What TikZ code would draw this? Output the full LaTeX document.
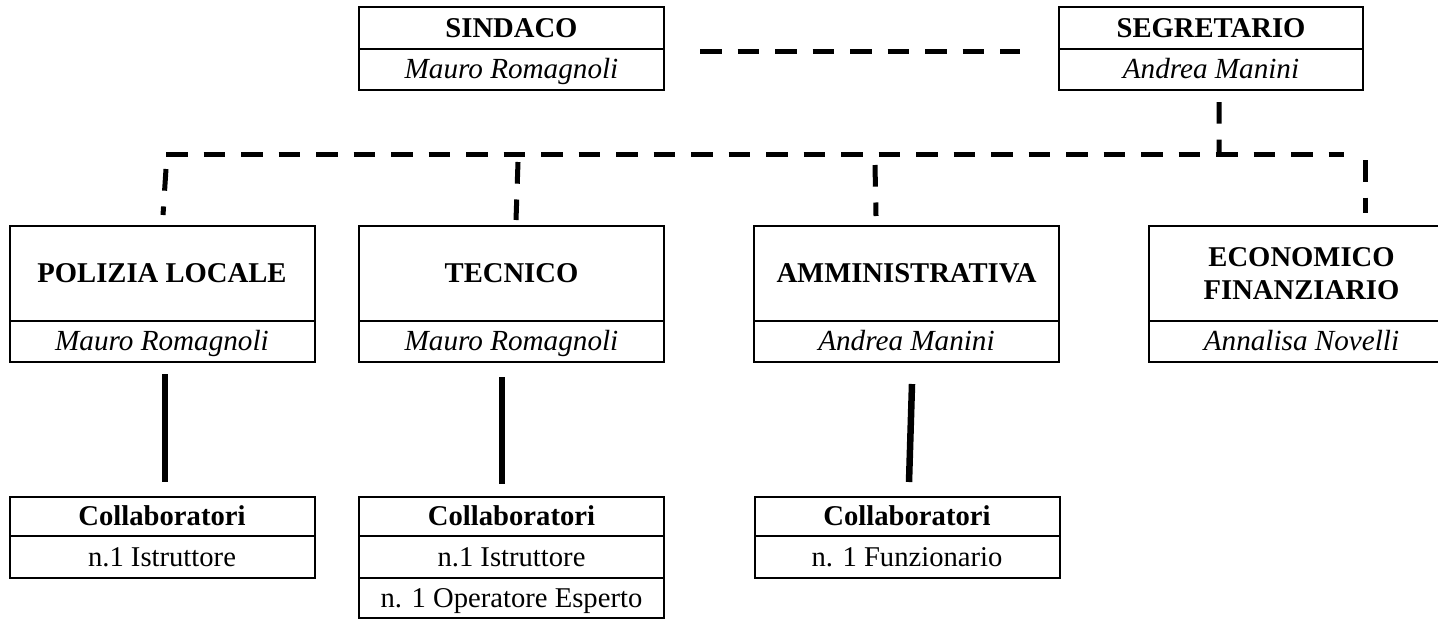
\documentclass[tikz,border=0pt]{standalone}
\usepackage{fontspec}
\setmainfont{Liberation Serif}

\tikzset{
  casella/.style={draw,line width=0.04cm,inner sep=0pt,outer sep=0pt,minimum width=6.1cm,align=center,font=\fontsize{16.3}{18.7}\selectfont},
  riga/.style={text height=10.8pt,text depth=0pt},
  intestazione/.style={casella,font=\fontsize{16.3}{18.7}\selectfont\bfseries},
  titolo/.style={intestazione,riga},
  nome/.style={casella,riga,minimum height=0.82cm,font=\fontsize{16.6}{18.7}\selectfont\itshape},
  voce/.style={casella,riga,minimum height=0.8cm},
  tratteggio/.style={line width=0.1cm,dash pattern=on 0.434cm off 0.316cm},
  linea/.style={line width=0.13cm}
}

\begin{document}
\begin{tikzpicture}
\useasboundingbox (0,0) rectangle (28.76,-12.38);
% vertici
\node[titolo,minimum height=0.84cm] (sindaco) at (10.23,-0.56) {SINDACO};
\node[nome,anchor=north] (sindacoN) at (sindaco.south) {Mauro Romagnoli};
\node[titolo,minimum height=0.84cm,minimum width=6.08cm] (segretario) at (24.22,-0.56) {SEGRETARIO};
\node[nome,anchor=north,minimum width=6.08cm] (segretarioN) at (segretario.south) {Andrea Manini};
% aree
\node[titolo,minimum height=1.9cm] (polizia) at (3.24,-5.47) {POLIZIA LOCALE};
\node[nome,anchor=north] (poliziaN) at (polizia.south) {Mauro Romagnoli};
\node[titolo,minimum height=1.9cm] (tecnico) at (10.23,-5.47) {TECNICO};
\node[nome,anchor=north] (tecnicoN) at (tecnico.south) {Mauro Romagnoli};
\node[titolo,minimum height=1.9cm] (ammin) at (18.13,-5.47) {AMMINISTRATIVA};
\node[nome,anchor=north] (amminN) at (ammin.south) {Andrea Manini};
\node[intestazione,minimum height=1.9cm] (economico) at (26.03,-5.47) {ECONOMICO\\FINANZIARIO};
\node[nome,anchor=north] (economicoN) at (economico.south) {Annalisa Novelli};
% collaboratori
\node[titolo,minimum height=0.78cm] (collabP) at (3.24,-10.33) {Collaboratori};
\node[voce,minimum height=0.84cm,anchor=north] (collabP1) at (collabP.south) {n.1 Istruttore};
\node[titolo,minimum height=0.78cm] (collabT) at (10.23,-10.33) {Collaboratori};
\node[voce,minimum height=0.84cm,anchor=north] (collabT1) at (collabT.south) {n.1 Istruttore};
\node[voce,anchor=north] (collabT2) at (collabT1.south) {n. 1 Operatore Esperto};
\node[titolo,minimum height=0.78cm] (collabA) at (18.14,-10.33) {Collaboratori};
\node[voce,minimum height=0.84cm,anchor=north] (collabA1) at (collabA.south) {n. 1 Funzionario};

% collegamenti tratteggiati
\coordinate (bus-l) at (3.32,-3.08);
\coordinate (bus-r) at (26.88,-3.08);
\coordinate (snodo) at (24.38,-3.08);
\draw[tratteggio] ([xshift=0.72cm,yshift=-0.04cm]sindacoN.north east) -- ([xshift=-0.78cm,yshift=-0.04cm]segretarioN.north west);
\draw[tratteggio] ([xshift=0.16cm,yshift=-0.24cm]segretarioN.south) -- (snodo);
\draw[tratteggio] (bus-l) -- (bus-r);
\draw[tratteggio] ([xshift=0.08cm,yshift=1.14cm]polizia.north) -- ([xshift=0.02cm,yshift=0.22cm]polizia.north);
\draw[tratteggio] ([xshift=0.13cm,yshift=1.28cm]tecnico.north) -- ([xshift=0.09cm,yshift=0.12cm]tecnico.north);
\draw[tratteggio] ([xshift=-0.63cm,yshift=1.22cm]ammin.north) -- ([xshift=-0.61cm,yshift=0.20cm]ammin.north);
\draw[tratteggio] ([xshift=1.27cm,yshift=1.32cm]economico.north) -- ([xshift=1.27cm,yshift=0.26cm]economico.north);

% collegamenti pieni
\draw[linea] ([xshift=0.06cm,yshift=-0.24cm]poliziaN.south) -- ([xshift=0.06cm,yshift=0.30cm]collabP.north);
\draw[linea] ([xshift=-0.19cm,yshift=-0.30cm]tecnicoN.south) -- ([xshift=-0.19cm,yshift=0.26cm]collabT.north);
\draw[linea] ([xshift=0.11cm,yshift=-0.44cm]amminN.south) -- ([xshift=0.04cm,yshift=0.30cm]collabA.north);
\end{tikzpicture}
\end{document}
